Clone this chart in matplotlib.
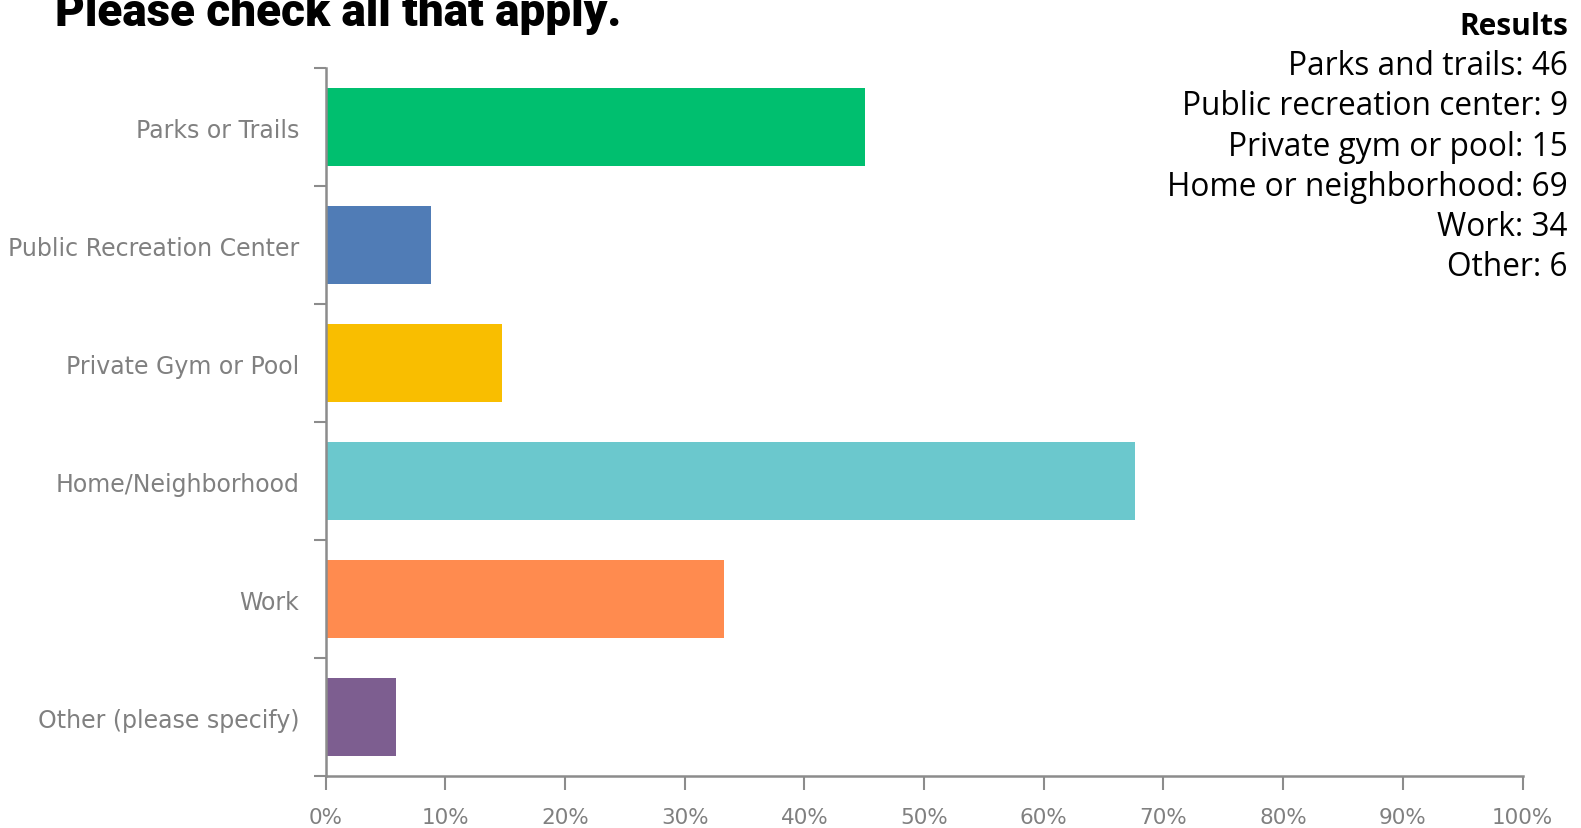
#!/usr/bin/env python3
"""Horizontal bar chart of where respondents are physically active."""

import numpy as np
import matplotlib
matplotlib.use("Agg")
import matplotlib.pyplot as plt
from matplotlib.ticker import FixedLocator, PercentFormatter

CATEGORIES = ["Parks or Trails", "Public Recreation Center", "Private Gym or Pool",
              "Home/Neighborhood", "Work", "Other (please specify)"]
PERCENTS = [45.1, 8.8, 14.7, 67.6, 33.3, 5.9]
BAR_COLORS = ["#00BF6F", "#507CB6", "#F9BE00", "#6BC8CD", "#FF8B4F", "#7D5E90"]

RESULT_LABELS = ["Parks and trails", "Public recreation center", "Private gym or pool",
                 "Home or neighborhood", "Work", "Other"]
RESULT_COUNTS = [46, 9, 15, 69, 34, 6]

AXIS_GRAY = "#8C8C8C"
LABEL_GRAY = "#808080"


def main():
    fig = plt.figure(figsize=(15.81, 8.29), dpi=100)
    ax = fig.add_axes([0.206, 0.0627, 0.757, 0.854])

    ypos = np.arange(len(CATEGORIES))
    ax.barh(ypos, PERCENTS, height=0.665, color=BAR_COLORS)

    ax.set_xlim(0, 100)
    ax.set_ylim(len(CATEGORIES) - 0.5, -0.5)
    ax.set_xticks(np.arange(0, 101, 10))
    ax.xaxis.set_major_formatter(PercentFormatter(decimals=0))
    ax.set_yticks(ypos)
    ax.set_yticklabels(CATEGORIES)
    ax.yaxis.set_minor_locator(FixedLocator(np.arange(-0.5, len(CATEGORIES), 1.0)))

    for side in ("top", "right"):
        ax.spines[side].set_visible(False)
    for side in ("left", "bottom"):
        ax.spines[side].set_color(AXIS_GRAY)
        ax.spines[side].set_linewidth(1.8)

    ax.tick_params(axis="y", which="major", length=0, pad=19,
                   labelsize=17, labelcolor=LABEL_GRAY)
    ax.tick_params(axis="y", which="minor", length=9, width=1.5, color=AXIS_GRAY)
    ax.tick_params(axis="x", length=10, width=1.5, color=AXIS_GRAY, pad=12,
                   labelsize=15.5, labelcolor=LABEL_GRAY)

    # title sits partly above the top edge, as in the source image
    fig.text(0.035, 0.969, "Please check all that apply.", ha="left", va="baseline",
             fontsize=33, fontweight=900,
             family=["Roboto", "DejaVu Sans"])

    # results list, right aligned in the top right corner
    lines_y = 0.968
    fig.text(0.9917, lines_y, "Results", ha="right", va="center",
             fontsize=21.5, fontweight="bold", family=["Open Sans", "DejaVu Sans"])
    for i, (lab, cnt) in enumerate(zip(RESULT_LABELS, RESULT_COUNTS)):
        fig.text(0.9917, lines_y - 0.0485 * (i + 1), f"{lab}: {cnt}", ha="right",
                 va="center", fontsize=22.8, family=["Open Sans", "DejaVu Sans"])

    fig.savefig("out.png", dpi=100)


if __name__ == "__main__":
    main()
